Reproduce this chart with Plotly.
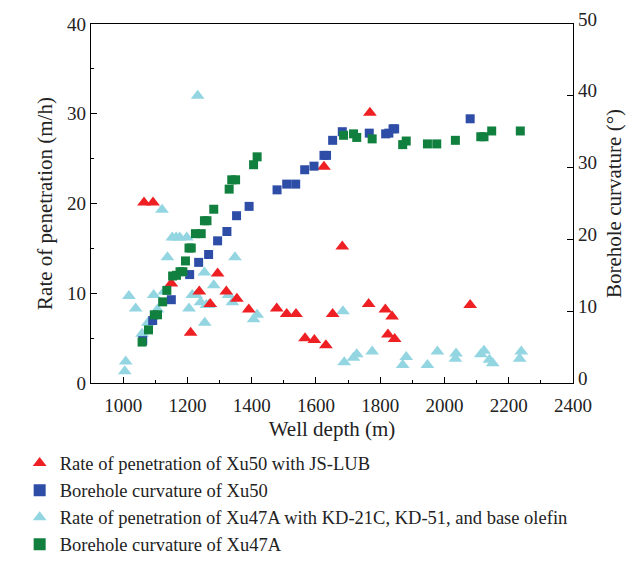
import plotly.graph_objects as go

# Rate of penetration of Xu50 with JS-LUB (m/h)
red_depth = [1065, 1093, 1150, 1210, 1237, 1271, 1294, 1321, 1354, 1391, 1478, 1509, 1538,
             1566, 1595, 1631, 1625, 1652, 1682, 1764, 1768, 1816, 1837, 1824, 1845, 2080]
red_rop = [20.1, 20.1, 11.1, 5.6, 10.2, 8.8, 12.2, 10.2, 9.4, 8.2, 8.3, 7.7, 7.7,
           5.0, 4.8, 4.2, 24.1, 7.7, 15.2, 8.8, 30.1, 8.2, 7.4, 5.4, 4.9, 8.7]

# Borehole curvature of Xu50 (deg)
blue_depth = [1061, 1092, 1150, 1207, 1235, 1266, 1294, 1323, 1353, 1392, 1479, 1509, 1537,
              1565, 1594, 1625, 1633, 1652, 1682, 1766, 1817, 1827, 1840, 1845, 2080]
blue_curv = [5.9, 8.7, 11.6, 15.1, 16.8, 17.9, 19.8, 21.1, 23.3, 24.6, 26.9, 27.7, 27.7,
             29.7, 30.2, 31.7, 31.7, 33.8, 35.0, 34.8, 34.7, 34.8, 35.4, 35.4, 36.8]

# Rate of penetration of Xu47A with KD-21C, KD-51, and base olefin (m/h)
cyan_depth = [1232, 1121, 1153, 1165, 1176, 1198, 1138, 1348, 1018, 1039, 1095, 1107, 1128,
              1059, 1077, 1008, 1005, 1205, 1253, 1215, 1227, 1241, 1259, 1266, 1254, 1282,
              1328, 1340, 1406, 1417, 1684, 1688, 1717, 1727, 1775, 1870, 1881, 1947, 1978,
              2034, 2036, 2113, 2123, 2140, 2150, 2234, 2239]
cyan_rop = [32.0, 19.3, 16.2, 16.2, 16.2, 16.2, 14.0, 14.0, 9.7, 8.3, 9.8, 8.2, 10.2,
            5.5, 6.7, 2.4, 1.3, 8.3, 12.3, 9.8, 9.8, 9.0, 8.7, 8.7, 6.7, 10.9,
            9.8, 9.0, 7.1, 7.6, 8.0, 2.3, 2.8, 3.2, 3.5, 2.0, 2.9, 2.0, 3.5,
            2.7, 3.3, 3.2, 3.6, 2.6, 2.2, 2.7, 3.5]

# Borehole curvature of Xu47A (deg)
green_depth = [1059, 1079, 1097, 1107, 1123, 1136, 1154, 1166, 1177, 1186, 1194, 1205, 1212,
               1225, 1243, 1253, 1261, 1282, 1330, 1338, 1350, 1406, 1417, 1686, 1717, 1727,
               1775, 1870, 1881, 1947, 1976, 2034, 2113, 2123, 2147, 2236]
green_curv = [5.7, 7.4, 9.5, 9.5, 11.3, 12.9, 14.9, 15.0, 15.5, 15.5, 17.0, 18.8, 18.8,
              20.8, 20.8, 22.6, 22.6, 24.2, 27.0, 28.3, 28.3, 30.4, 31.5, 34.5, 34.7, 34.2,
              34.0, 33.2, 33.7, 33.3, 33.3, 33.8, 34.3, 34.3, 35.1, 35.1]

names = ["Rate of penetration of Xu50 with JS-LUB",
         "Borehole curvature of Xu50",
         "Rate of penetration of Xu47A with KD-21C, KD-51, and base olefin",
         "Borehole curvature of Xu47A"]

FONT = "Liberation Serif"

fig = go.Figure()
fig.add_trace(go.Scatter(x=blue_depth, y=blue_curv, mode="markers", name=names[1],
                         yaxis="y2", legendrank=2,
                         marker=dict(symbol="square", size=9, color="#2E4DA7")))
fig.add_trace(go.Scatter(x=green_depth, y=green_curv, mode="markers", name=names[3],
                         yaxis="y2", legendrank=4,
                         marker=dict(symbol="square", size=9, color="#11803F")))
fig.add_trace(go.Scatter(x=cyan_depth, y=cyan_rop, mode="markers", name=names[2],
                         yaxis="y", legendrank=3,
                         marker=dict(symbol="triangle-up", size=12, color="#93D6E2")))
fig.add_trace(go.Scatter(x=red_depth, y=red_rop, mode="markers", name=names[0],
                         yaxis="y", legendrank=1,
                         marker=dict(symbol="triangle-up", size=12, color="#EE2024")))

axis_common = dict(showline=True, linecolor="black", linewidth=1.3, ticks="inside",
                   tickcolor="black", ticklen=6, tickwidth=1.2, showgrid=False,
                   zeroline=False, automargin=False,
                   tickfont=dict(family=FONT, size=19, color="#222"))
title_font = dict(family=FONT, size=21, color="#222")

fig.update_layout(
    width=637, height=568,
    margin=dict(l=77, r=72, t=16, b=186),
    paper_bgcolor="white", plot_bgcolor="white",
    font=dict(family=FONT, size=19, color="#222"),
    xaxis=dict(range=[900, 2400], tick0=1000, dtick=200, mirror=True, ticklabelstandoff=5,
               minor=dict(ticks="inside", dtick=100, tick0=900, ticklen=3, tickcolor="black"),
               title=dict(text="Well depth (m)", font=title_font, standoff=6),
               **axis_common),
    yaxis=dict(range=[0, 40], dtick=10,
               minor=dict(ticks="inside", dtick=5, ticklen=3, tickcolor="black"),
               title=dict(text="Rate of penetration (m/h)", font=title_font, standoff=8),
               **axis_common),
    yaxis2=dict(range=[0, 50], dtick=10, overlaying="y", side="right", ticklabelshift=-5,
                title=dict(text="Borehole curvature (°)", font=title_font, standoff=10),
                **axis_common),
    legend=dict(x=-0.148, y=-0.503, xanchor="left", yanchor="bottom", orientation="v",
                font=dict(family=FONT, size=18.5, color="#222"), tracegroupgap=0,
                itemsizing="constant", bgcolor="rgba(0,0,0,0)"),
    showlegend=True,
)

fig.write_html("out.html")
